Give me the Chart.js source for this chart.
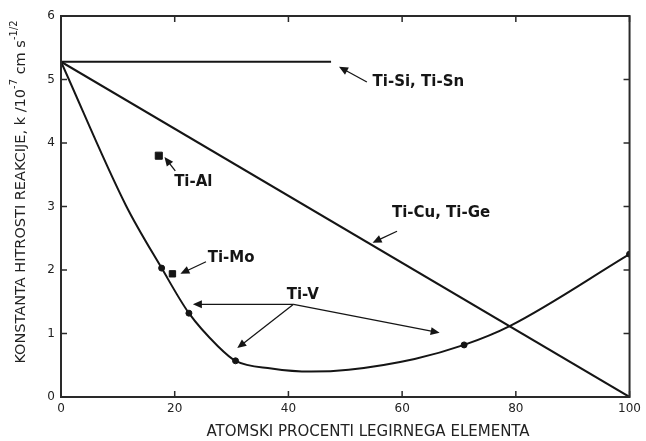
<!DOCTYPE html>
<html>
<head>
<meta charset="utf-8">
<script src="https://cdn.jsdelivr.net/npm/chart.js@4.4.1/dist/chart.umd.min.js"></script>
<style>
  html, body { margin: 0; padding: 0; background: #fff; }
  #wrap { width: 646px; height: 441px; }
</style>
</head>
<body>
<div id="wrap"><canvas id="chart"></canvas></div>
<script>
// podatki, odčitani s slike
const xTicks = [0, 20, 40, 60, 80, 100];
const yTicks = [0, 1, 2, 3, 4, 5, 6];

const tiSiX = [0, 47.5];
const tiSiY = [5.28, 5.28];

const tiCuX = [0, 100];
const tiCuY = [5.28, 0];

const tiVCurveX = [0, 11.4, 17.7, 22.5, 27.6, 30.7, 37, 44, 50.6, 62.2, 70.9, 79, 100];
const tiVCurveY = [5.28, 3.02, 2.03, 1.32, 0.80, 0.57, 0.45, 0.40, 0.43, 0.60, 0.82, 1.12, 2.25];

const tiVPointsX = [17.7, 22.5, 30.7, 70.9, 100];
const tiVPointsY = [2.03, 1.32, 0.57, 0.82, 2.25];

const tiMoX = [19.6];
const tiMoY = [1.94];
const tiAlX = [17.2];
const tiAlY = [3.80];

// oznake in puščice (v enotah osi)
const labelText = ["Ti-Si, Ti-Sn", "Ti-Cu, Ti-Ge", "Ti-Al", "Ti-Mo", "Ti-V"];
const labelX = [54.8, 58.2, 19.9, 25.8, 39.7];
const labelY = [4.96, 2.90, 3.39, 2.19, 1.61];

const arrowFrom = [[53.8, 4.96], [59.1, 2.61], [20.1, 3.56], [25.5, 2.13], [40.9, 1.46], [40.9, 1.46], [40.9, 1.46]];
const arrowTo = [[48.9, 5.20], [54.8, 2.43], [18.2, 3.78], [21.0, 1.94], [23.2, 1.46], [31.0, 0.77], [66.6, 1.01]];

const pts = (xs, ys) => xs.map((x, i) => ({ x: x, y: ys[i] }));

const ink = "#151515";
const fontFam = "'DejaVu Sans', sans-serif";

const decor = {
  id: "decor",
  afterDraw(chart) {
    const { ctx, chartArea: a, scales: { x, y } } = chart;
    ctx.save();

    // okvir
    ctx.strokeStyle = "#2a2a2a";
    ctx.lineWidth = 2;
    ctx.strokeRect(a.left, a.top, a.right - a.left, a.bottom - a.top);

    // notranje oznake
    ctx.lineWidth = 1.5;
    ctx.beginPath();
    xTicks.forEach((v) => {
      const px = x.getPixelForValue(v);
      ctx.moveTo(px, a.bottom); ctx.lineTo(px, a.bottom - 6);
      ctx.moveTo(px, a.top); ctx.lineTo(px, a.top + 6);
    });
    yTicks.forEach((v) => {
      const py = y.getPixelForValue(v);
      ctx.moveTo(a.left, py); ctx.lineTo(a.left + 6, py);
      ctx.moveTo(a.right, py); ctx.lineTo(a.right - 6, py);
    });
    ctx.stroke();

    // puščice
    ctx.strokeStyle = ink;
    ctx.fillStyle = ink;
    ctx.lineWidth = 1.3;
    arrowFrom.forEach((f, i) => {
      const x1 = x.getPixelForValue(f[0]), y1 = y.getPixelForValue(f[1]);
      const x2 = x.getPixelForValue(arrowTo[i][0]), y2 = y.getPixelForValue(arrowTo[i][1]);
      const ang = Math.atan2(y2 - y1, x2 - x1);
      const len = 9, w = 4;
      ctx.beginPath();
      ctx.moveTo(x1, y1);
      ctx.lineTo(x2 - Math.cos(ang) * len * 0.8, y2 - Math.sin(ang) * len * 0.8);
      ctx.stroke();
      ctx.beginPath();
      ctx.moveTo(x2, y2);
      ctx.lineTo(x2 - Math.cos(ang) * len - Math.sin(ang) * w, y2 - Math.sin(ang) * len + Math.cos(ang) * w);
      ctx.lineTo(x2 - Math.cos(ang) * len + Math.sin(ang) * w, y2 - Math.sin(ang) * len - Math.cos(ang) * w);
      ctx.closePath();
      ctx.fill();
    });

    // oznake krivulj
    ctx.font = "bold 15px " + fontFam;
    ctx.textAlign = "left";
    ctx.textBaseline = "middle";
    labelText.forEach((t, i) => {
      ctx.fillText(t, x.getPixelForValue(labelX[i]), y.getPixelForValue(labelY[i]));
    });

    // naslov osi x
    ctx.font = "15px " + fontFam;
    ctx.textAlign = "center";
    ctx.fillStyle = "#222";
    ctx.fillText("ATOMSKI PROCENTI LEGIRNEGA ELEMENTA", 368, 432);

    // naslov osi y z nadpisanimi indeksi
    const parts = [["KONSTANTA HITROSTI REAKCIJE, k /10", false], ["-7", true], [" cm s", false], ["-1/2", true]];
    const big = "14.5px " + fontFam, small = "10px " + fontFam;
    let total = 0;
    parts.forEach((p) => { ctx.font = p[1] ? small : big; total += ctx.measureText(p[0]).width; });
    ctx.translate(21, 192);
    ctx.rotate(-Math.PI / 2);
    ctx.textAlign = "left";
    let cx = -total / 2;
    parts.forEach((p) => {
      ctx.font = p[1] ? small : big;
      ctx.fillText(p[0], cx, p[1] ? -7 : 0);
      cx += ctx.measureText(p[0]).width;
    });
    ctx.restore();
  }
};

const lineStyle = { borderColor: ink, borderWidth: 2, pointRadius: 0, showLine: true, fill: false };

new Chart(document.getElementById("chart"), {
  type: "scatter",
  data: {
    datasets: [
      { label: "Ti-Si, Ti-Sn", data: pts(tiSiX, tiSiY), ...lineStyle },
      { label: "Ti-Cu, Ti-Ge", data: pts(tiCuX, tiCuY), ...lineStyle },
      { label: "Ti-V", data: pts(tiVCurveX, tiVCurveY), ...lineStyle, cubicInterpolationMode: "monotone" },
      { label: "Ti-V točke", data: pts(tiVPointsX, tiVPointsY), showLine: false,
        pointRadius: 3, backgroundColor: ink, borderColor: ink },
      { label: "Ti-Mo", data: pts(tiMoX, tiMoY), showLine: false, pointStyle: "rect",
        pointRadius: 4.5, backgroundColor: ink, borderColor: ink },
      { label: "Ti-Al", data: pts(tiAlX, tiAlY), showLine: false, pointStyle: "rect",
        pointRadius: 5, backgroundColor: ink, borderColor: ink }
    ]
  },
  options: {
    responsive: true,
    maintainAspectRatio: false,
    animation: false,
    layout: { padding: { left: 0, right: 8, top: 16, bottom: 0 } },
    plugins: { legend: { display: false }, tooltip: { enabled: false } },
    scales: {
      x: {
        type: "linear", min: 0, max: 100,
        afterBuildTicks: (s) => { s.ticks = xTicks.map((v) => ({ value: v })); },
        afterFit: (s) => { s.height = 44; },
        grid: { display: false, drawTicks: false },
        border: { display: false },
        ticks: { padding: 5, color: "#222", font: { family: fontFam, size: 12 } }
      },
      y: {
        type: "linear", min: 0, max: 6,
        afterBuildTicks: (s) => { s.ticks = yTicks.map((v) => ({ value: v })); },
        afterFit: (s) => { s.width = 61; },
        grid: { display: false, drawTicks: false },
        border: { display: false },
        ticks: { padding: 6, color: "#222", font: { family: fontFam, size: 12 } }
      }
    }
  },
  plugins: [decor]
});
</script>
</body>
</html>
